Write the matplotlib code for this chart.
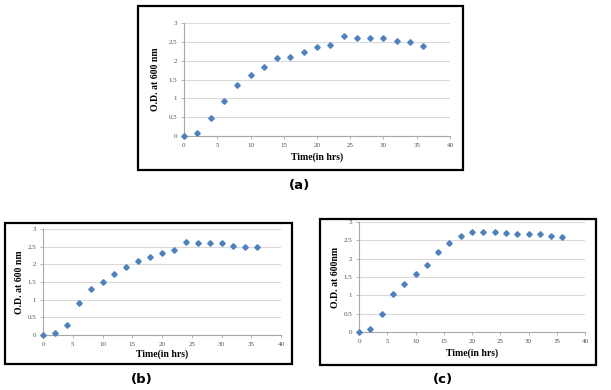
import numpy as np
import matplotlib
matplotlib.use("Agg")
import matplotlib.pyplot as plt
from matplotlib.patches import Rectangle

W, H = 611, 390

hours = [0, 2, 4, 6, 8, 10, 12, 14, 16, 18, 20, 22, 24, 26, 28, 30, 32, 34, 36]
od_a = [0, 0.09, 0.48, 0.92, 1.36, 1.61, 1.82, 2.08, 2.10, 2.24, 2.37, 2.42,
        2.65, 2.61, 2.60, 2.60, 2.52, 2.50, 2.40]
od_b = [0, 0.07, 0.29, 0.90, 1.30, 1.51, 1.73, 1.92, 2.09, 2.21, 2.32, 2.41,
        2.62, 2.61, 2.60, 2.59, 2.53, 2.50, 2.49]
od_c = [0, 0.09, 0.49, 1.05, 1.32, 1.59, 1.82, 2.17, 2.43, 2.63, 2.73, 2.73,
        2.72, 2.71, 2.68, 2.68, 2.67, 2.63, 2.58]
ylabels = ["O.D. at 600 nm", "O.D. at 600 nm", "O.D. at 600nm"]
panel_names = ["(a)", "(b)", "(c)"]

fig = plt.figure(figsize=(W / 100, H / 100), dpi=100)


def fx(px):
    return px / W


def fy(py):
    return 1 - py / H


def panel(box, ax_px, ylab_x, xlab_y, y, ylabel, name, name_xy):
    bx0, by0, bx1, by1 = box
    fig.patches.append(Rectangle((fx(bx0), fy(by1)), fx(bx1 - bx0), (by1 - by0) / H,
                                 transform=fig.transFigure, fill=False,
                                 edgecolor="black", linewidth=1.6))
    x0, y0, x1, y1 = ax_px
    ax = fig.add_axes([fx(x0), fy(y1), fx(x1 - x0), (y1 - y0) / H])
    ax.plot(hours, y, linestyle="none", marker="D", markersize=2.8,
            color="#4f81bd", markeredgecolor="#4f81bd", clip_on=False, zorder=3)
    ax.set_xlim(0, 40)
    ax.set_ylim(0, 3)
    ax.set_xticks(range(0, 41, 5))
    ax.set_yticks([0, 0.5, 1, 1.5, 2, 2.5, 3])
    ax.set_yticklabels(["0", "0.5", "1", "1.5", "2", "2.5", "3"])
    ax.grid(axis="y", color="#dadada", linewidth=0.8)
    ax.set_axisbelow(True)
    for s in ["top", "right"]:
        ax.spines[s].set_visible(False)
    for s in ["left", "bottom"]:
        ax.spines[s].set_color("#a8a8a8")
        ax.spines[s].set_linewidth(0.8)
    ax.tick_params(labelsize=5, colors="#a8a8a8", labelcolor="#505050",
                   length=2, width=0.6, pad=3)
    for t in ax.get_xticklabels() + ax.get_yticklabels():
        t.set_family("Liberation Serif")
    fig.text(fx(ylab_x), fy((y0 + y1) / 2), ylabel, rotation=90, ha="center",
             va="center", fontsize=7, fontweight="bold", family="Liberation Serif")
    fig.text(fx((x0 + x1) / 2), fy(xlab_y), "Time(in hrs)", ha="center",
             va="center", fontsize=7, fontweight="bold", family="Liberation Serif")
    fig.text(fx(name_xy[0]), fy(name_xy[1]), name, ha="center", va="center",
             fontsize=9.5, fontweight="bold", family="DejaVu Sans")
    return ax


panel((138, 6, 463, 170), (184, 23, 450, 136), 155, 157, od_a,
      ylabels[0], panel_names[0], (299, 185))
panel((5, 223, 292, 364), (43, 229, 281, 335), 19, 354, od_b,
      ylabels[1], panel_names[1], (142, 379))
panel((320, 219, 596, 365), (359, 222, 585, 332), 335, 353, od_c,
      ylabels[2], panel_names[2], (443, 379))

fig.savefig("out.png", dpi=100)
